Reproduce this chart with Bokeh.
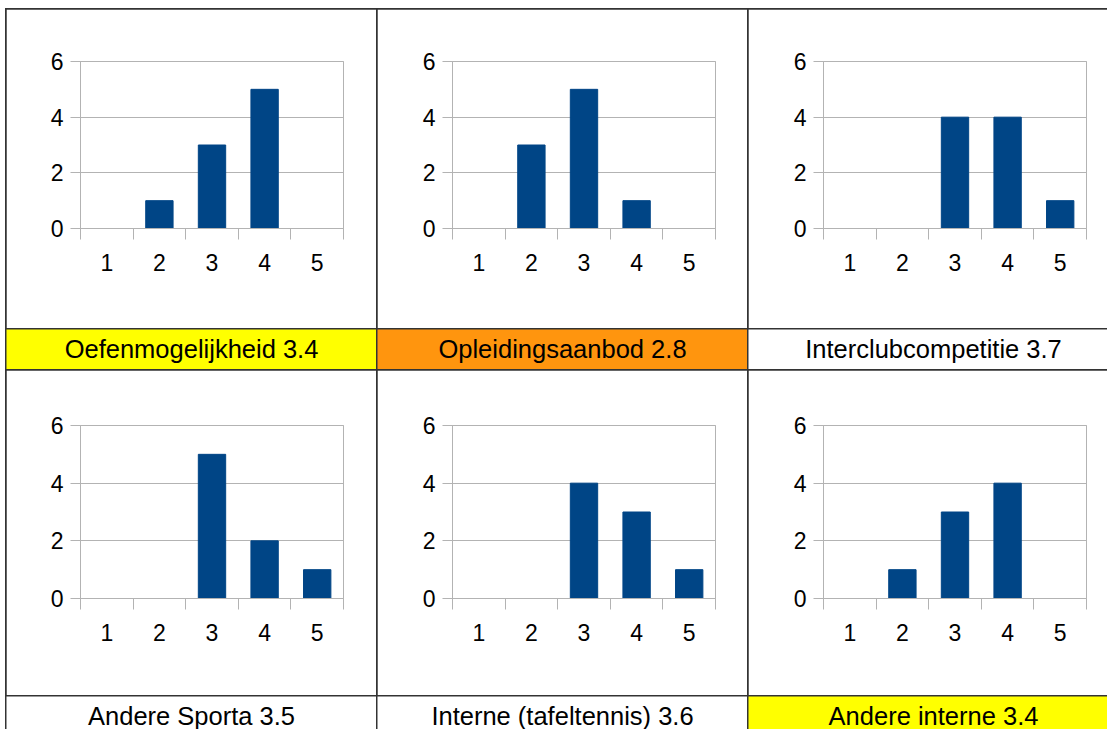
from bokeh.plotting import figure
from bokeh.layouts import row, column
from bokeh.models import Range1d, FixedTicker
from bokeh.core.properties import value
from bokeh.embed import file_html
from bokeh.resources import INLINE

# ---- data ----
scores = [1, 2, 3, 4, 5]
titles = ["Oefenmogelijkheid 3.4", "Opleidingsaanbod 2.8", "Interclubcompetitie 3.7",
          "Andere Sporta 3.5", "Interne (tafeltennis) 3.6", "Andere interne 3.4"]
counts_oefen = [0, 1, 3, 5, 0]
counts_opleiding = [0, 3, 5, 1, 0]
counts_interclub = [0, 0, 4, 4, 1]
counts_andere_sport = [0, 0, 5, 2, 1]
counts_interne = [0, 0, 4, 3, 1]
counts_andere_interne = [0, 1, 3, 4, 0]
all_counts = [counts_oefen, counts_opleiding, counts_interclub,
              counts_andere_sport, counts_interne, counts_andere_interne]
label_colors = ["#ffff00", "#ff950e", "#ffffff", "#ffffff", "#ffffff", "#ffff00"]
y_ticks = [0, 2, 4, 6]

FONT = "Liberation Sans"
BAR = "#004586"
GRID = "#b3b3b3"
LINE = "#333333"

col_widths = [370, 370, 359]
chart_heights = [319, 325]
label_heights = [40, 33]
# frame geometry per row: (top border, frame height)
row_frame = [(52, 167), (55, 173)]
col_left = [74, 75, 75]
frame_w = 263


def chart(counts, w, h, left, top, fh):
    bottom = h - top - fh
    right = w - left - frame_w
    p = figure(width=w, height=h, x_range=Range1d(0.5, 5.5), y_range=Range1d(0, 6),
               output_backend="svg", toolbar_location=None,
               min_border_left=left, min_border_right=right,
               min_border_top=top, min_border_bottom=bottom,
               background_fill_color="white", border_fill_color="white",
               outline_line_color=GRID)
    p.vbar(x=scores, top=counts, width=0.52, color=BAR)
    p.xgrid.visible = False
    p.ygrid.ticker = FixedTicker(ticks=y_ticks)
    p.ygrid.grid_line_color = GRID
    xa = p.xaxis[0]
    xa.ticker = FixedTicker(ticks=scores, minor_ticks=[0.5, 1.5, 2.5, 3.5, 4.5, 5.5])
    xa.major_tick_out = 0
    xa.major_tick_in = 0
    xa.minor_tick_out = 11
    xa.minor_tick_in = 0
    xa.minor_tick_line_color = GRID
    xa.axis_line_color = GRID
    xa.major_label_standoff = 14
    xa.major_label_text_font = FONT
    xa.major_label_text_font_size = "23px"
    xa.major_label_text_color = "black"
    ya = p.yaxis[0]
    ya.ticker = FixedTicker(ticks=y_ticks)
    ya.major_tick_out = 10
    ya.major_tick_in = 0
    ya.major_tick_line_color = GRID
    ya.minor_tick_line_color = None
    ya.axis_line_color = GRID
    ya.major_label_standoff = 7
    ya.major_label_text_font = FONT
    ya.major_label_text_font_size = "23px"
    ya.major_label_text_color = "black"
    return p


def label(text, color, w, h):
    p = figure(width=w, height=h, x_range=Range1d(0, w), y_range=Range1d(0, h),
               output_backend="svg", toolbar_location=None,
               x_axis_type=None, y_axis_type=None, min_border=0,
               background_fill_color=color, border_fill_color=color,
               outline_line_color=None)
    p.grid.visible = False
    p.text(x=[185], y=[h - 19], text=[text], text_align="center", text_baseline="middle",
           text_font=value(FONT), text_font_size="25.5px", text_color="black")
    return p


rows = []
for r in range(2):
    charts = []
    labels = []
    for c in range(3):
        i = r * 3 + c
        top, fh = row_frame[r]
        charts.append(chart(all_counts[i], col_widths[c], chart_heights[r], col_left[c], top, fh))
        labels.append(label(titles[i], label_colors[i], col_widths[c], label_heights[r]))
    rows.append(row(charts, spacing=1, styles={"background-color": LINE}))
    rows.append(row(labels, spacing=1, styles={"background-color": LINE}))

layout = column(rows, spacing=1, margin=(8, 0, 0, 5),
                styles={"background-color": LINE, "padding": "1px 0px 0px 1px"})

open("out.html", "w").write(file_html(layout, INLINE))
